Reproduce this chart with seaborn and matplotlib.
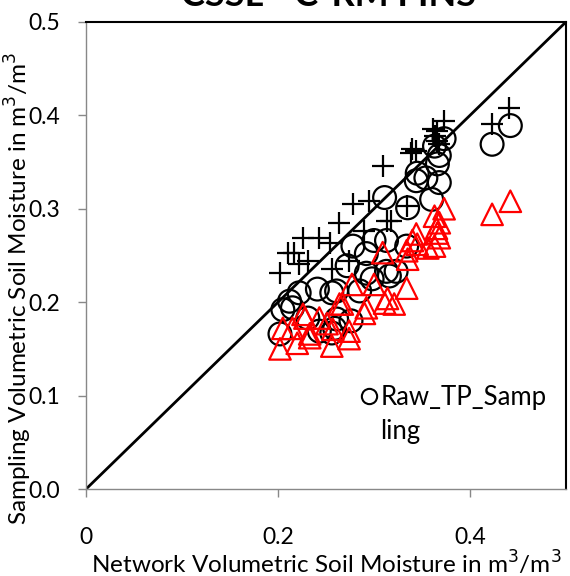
import seaborn as sns
import matplotlib.pyplot as plt
from matplotlib.lines import Line2D
import pandas as pd

# network vs sampling soil moisture (m3/m3)
cross_x = [0.441, 0.423, 0.373, 0.361, 0.366, 0.363, 0.366, 0.368, 0.340, 0.344, 0.339,
           0.309, 0.334, 0.313, 0.318, 0.278, 0.295, 0.264, 0.290, 0.226, 0.243, 0.254,
           0.210, 0.217, 0.231, 0.222, 0.256, 0.274, 0.202]
cross_y = [0.408, 0.391, 0.394, 0.385, 0.383, 0.378, 0.373, 0.369, 0.364, 0.362, 0.360,
           0.346, 0.303, 0.287, 0.287, 0.305, 0.308, 0.285, 0.276, 0.269, 0.269, 0.263,
           0.253, 0.253, 0.244, 0.241, 0.236, 0.244, 0.231]

circ_x = [0.442, 0.423, 0.373, 0.363, 0.368, 0.366, 0.345, 0.344, 0.354, 0.368, 0.360,
          0.335, 0.311, 0.334, 0.313, 0.278, 0.300, 0.272, 0.292, 0.313, 0.316, 0.222,
          0.241, 0.256, 0.212, 0.205, 0.231, 0.261, 0.276, 0.202, 0.243, 0.256, 0.285,
          0.261, 0.298, 0.323, 0.292, 0.259, 0.215]
circ_y = [0.389, 0.369, 0.375, 0.367, 0.357, 0.348, 0.338, 0.330, 0.333, 0.328, 0.310,
          0.301, 0.312, 0.260, 0.266, 0.260, 0.266, 0.239, 0.231, 0.233, 0.228, 0.210,
          0.214, 0.210, 0.201, 0.192, 0.183, 0.182, 0.180, 0.166, 0.169, 0.167, 0.212,
          0.212, 0.225, 0.233, 0.252, 0.172, 0.194]

tri_x = [0.442, 0.423, 0.373, 0.363, 0.368, 0.365, 0.366, 0.368, 0.363, 0.344, 0.345,
         0.340, 0.356, 0.309, 0.335, 0.334, 0.300, 0.314, 0.311, 0.321, 0.277, 0.267,
         0.292, 0.290, 0.274, 0.274, 0.256, 0.251, 0.243, 0.228, 0.233, 0.220, 0.205,
         0.202, 0.215, 0.226, 0.264, 0.233, 0.257, 0.334]
tri_y = [0.308, 0.294, 0.300, 0.292, 0.285, 0.279, 0.274, 0.269, 0.260, 0.273, 0.262,
         0.266, 0.258, 0.253, 0.246, 0.215, 0.219, 0.204, 0.199, 0.198, 0.219, 0.198,
         0.194, 0.188, 0.169, 0.161, 0.153, 0.177, 0.183, 0.183, 0.162, 0.156, 0.172,
         0.150, 0.172, 0.187, 0.198, 0.166, 0.171, 0.255]

one_to_one = [0.0, 0.5]

plt.rcParams['font.family'] = ['Lato', 'DejaVu Sans']

fig = plt.figure(figsize=(5.7, 5.76), dpi=100)
ax = fig.add_axes([0.151, 0.151, 0.842, 0.811])

sns.lineplot(x=one_to_one, y=one_to_one, color='black', linewidth=2, ax=ax)
sns.scatterplot(data=pd.DataFrame({'x': cross_x, 'y': cross_y}), x='x', y='y',
                marker='+', color='black', s=240, linewidth=1.6, ax=ax, zorder=3)
sns.scatterplot(data=pd.DataFrame({'x': circ_x, 'y': circ_y}), x='x', y='y',
                marker='o', facecolor='none', edgecolor='black', s=270, linewidth=1.6,
                ax=ax, zorder=3)
sns.scatterplot(data=pd.DataFrame({'x': tri_x, 'y': tri_y}), x='x', y='y',
                marker='^', facecolor='none', edgecolor='red', s=240, linewidth=1.6,
                ax=ax, zorder=3)

ax.set_xlim(0, 0.5)
ax.set_ylim(0, 0.5)
ax.set_xticks([0, 0.2, 0.4])
ax.set_xticklabels(['0', '0.2', '0.4'])
ax.set_yticks([0, 0.1, 0.2, 0.3, 0.4, 0.5])
ax.set_yticklabels(['0.0', '0.1', '0.2', '0.3', '0.4', '0.5'])
ax.tick_params(labelsize=16.5, color='#888888', length=6, width=1)
ax.tick_params(axis='y', pad=13)
ax.tick_params(axis='x', pad=21)

for side in ['top', 'right']:
    ax.spines[side].set_color('black')
    ax.spines[side].set_linewidth(1.5)
for side in ['left', 'bottom']:
    ax.spines[side].set_color('#888888')
    ax.spines[side].set_linewidth(1)

ax.set_xlabel('Network Volumetric Soil Moisture in m$^3$/m$^3$', fontsize=17.5, labelpad=1)
ax.set_ylabel('Sampling Volumetric Soil Moisture in m$^3$/m$^3$', fontsize=17.5)
ax.yaxis.set_label_coords(-0.108, 0.43)

handle = Line2D([], [], marker='o', linestyle='none', markerfacecolor='none',
                markeredgecolor='black', markersize=11, markeredgewidth=1.5)
blank = Line2D([], [], linestyle='none')
ax.legend([handle, blank], ['Raw_TP_Samp', 'ling'], loc='upper left',
          bbox_to_anchor=(0.565, 0.222), frameon=False, fontsize=18.5,
          handletextpad=0.0, handlelength=0.9, borderaxespad=0, borderpad=0,
          labelspacing=0.35)

fig.text(0.577, 0.990, 'CSSL - C-RM FINS', fontsize=26, fontweight='bold',
         ha='center', va='baseline')

fig.savefig('out.png', dpi=100)
